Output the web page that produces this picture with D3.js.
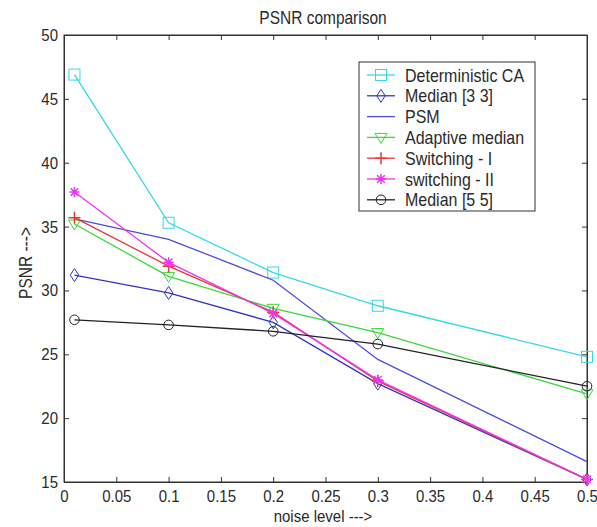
<!DOCTYPE html>
<html>
<head>
<meta charset="utf-8">
<script src="https://cdn.jsdelivr.net/npm/d3@7"></script>
<style>
  body { margin: 0; background: #fff; }
  svg { font-family: "Liberation Sans", Arial, sans-serif; }
</style>
</head>
<body>
<svg></svg>
<script>
const noise = [0.01, 0.1, 0.2, 0.3, 0.5];

const detCA      = [46.9, 35.3, 31.4, 28.8, 24.8];
const median33   = [31.2, 29.8, 27.5, 22.7, 15.2];
const psm        = [35.6, 34.0, 30.8, 24.6, 16.6];
const adaptive   = [35.2, 31.1, 28.6, 26.7, 21.9];
const switchingI = [35.7, 31.9, 28.3, 22.9, 15.2];
const switchingII= [37.7, 32.2, 28.2, 23.0, 15.2];
const median55   = [27.7, 27.3, 26.8, 25.8, 22.5];

const xTicks = [0, 0.05, 0.1, 0.15, 0.2, 0.25, 0.3, 0.35, 0.4, 0.45, 0.5];
const yTicks = [15, 20, 25, 30, 35, 40, 45, 50];

const series = [
  { name: 'Deterministic CA', values: detCA, color: '#36d8e6', marker: 'square' },
  { name: 'Median [3 3]', values: median33, color: '#3434c4', marker: 'diamond' },
  { name: 'PSM', values: psm, color: '#4c4cd8', marker: 'none' },
  { name: 'Adaptive median', values: adaptive, color: '#3ad83a', marker: 'triangle' },
  { name: 'Switching - I', values: switchingI, color: '#ec3636', marker: 'plus' },
  { name: 'switching - II', values: switchingII, color: '#ec36ec', marker: 'star' },
  { name: 'Median [5 5]', values: median55, color: '#222222', marker: 'circle' }
];

const width = 597;
const height = 527;
const padLeft = 64, padRight = 587, padTop = 35, padBottom = 482;
const stretch = 1.15; // glyphs in the reference are taller than Arial

const svg = d3.select('svg').attr('width', width).attr('height', height);

const x = d3.scaleLinear().domain([0, 0.5]).range([padLeft, padRight]);
const y = d3.scaleLinear().domain([15, 50]).range([padBottom, padTop]);

// axes with inward ticks on all sides
const fmt = d => String(+d.toFixed(2));
const xAxisG = svg.append('g')
  .attr('transform', 'translate(0,' + padBottom + ')')
  .call(d3.axisBottom(x).tickValues(xTicks).tickSizeInner(-5).tickSizeOuter(0).tickFormat(fmt));
xAxisG.selectAll('.tick text')
  .attr('y', 20 / stretch).attr('dy', 0)
  .attr('transform', 'scale(1,' + stretch + ')');

svg.append('g')
  .attr('transform', 'translate(0,' + padTop + ')')
  .call(d3.axisTop(x).tickValues(xTicks).tickSizeInner(-5).tickSizeOuter(0).tickFormat(''));

const yAxisG = svg.append('g')
  .attr('transform', 'translate(' + padLeft + ',0)')
  .call(d3.axisLeft(y).tickValues(yTicks).tickSizeInner(-5).tickSizeOuter(0).tickPadding(6).tickFormat(d3.format('d')));
yAxisG.selectAll('.tick text')
  .attr('transform', 'scale(1,' + stretch + ')');

svg.append('g')
  .attr('transform', 'translate(' + padRight + ',0)')
  .call(d3.axisRight(y).tickValues(yTicks).tickSizeInner(-5).tickSizeOuter(0).tickFormat(''));

svg.selectAll('.domain').attr('stroke', '#333');
svg.selectAll('.tick line').attr('stroke', '#333');
svg.selectAll('.tick text').attr('font-size', 15).attr('fill', '#2a2a2a');

svg.append('rect')
  .attr('x', padLeft).attr('y', padTop)
  .attr('width', padRight - padLeft).attr('height', padBottom - padTop)
  .attr('fill', 'none').attr('stroke', '#333');

// marker drawing
const drawMarker = (g, type, color) => {
  const m = g.append('g');
  if (type === 'square') {
    m.append('rect').attr('x', -5.5).attr('y', -5.5).attr('width', 11).attr('height', 11)
      .attr('fill', 'none').attr('stroke', color);
  } else if (type === 'diamond') {
    m.append('path').attr('d', 'M0,-6.5L4.2,0L0,6.5L-4.2,0Z').attr('fill', 'none').attr('stroke', color);
  } else if (type === 'triangle') {
    m.append('path').attr('d', 'M-6,-4L6,-4L0,6Z').attr('fill', 'none').attr('stroke', color);
  } else if (type === 'plus') {
    m.append('path').attr('d', 'M-6,0L6,0M0,-6L0,6').attr('stroke', color).attr('stroke-width', 1.5);
  } else if (type === 'star') {
    m.append('path').attr('d', 'M-5,0L5,0M0,-5L0,5M-3.8,-3.8L3.8,3.8M-3.8,3.8L3.8,-3.8').attr('stroke', color).attr('stroke-width', 1.5);
  } else if (type === 'circle') {
    m.append('circle').attr('r', 4.8).attr('fill', 'none').attr('stroke', color);
  }
  return m;
};

const line = d3.line().x((d, i) => x(noise[i])).y(d => y(d));

series.forEach(s => {
  svg.append('path')
    .datum(s.values)
    .attr('d', line)
    .attr('fill', 'none')
    .attr('stroke', s.color)
    .attr('stroke-width', 1.3);
  s.values.forEach((v, i) => {
    drawMarker(svg, s.marker, s.color)
      .attr('transform', 'translate(' + x(noise[i]) + ',' + y(v) + ')');
  });
});

// text helper: stretched glyphs
const label = (tx, ty, rot, size, str, anchor) => {
  svg.append('g')
    .attr('transform', 'translate(' + tx + ',' + ty + ') rotate(' + rot + ') scale(1,' + stretch + ')')
    .append('text')
    .attr('text-anchor', anchor || 'start')
    .attr('font-size', size)
    .attr('fill', '#2a2a2a')
    .text(str);
};

// legend
const legend = svg.append('g');
legend.append('rect')
  .attr('x', 359).attr('y', 62).attr('width', 176).attr('height', 149)
  .attr('fill', '#fff').attr('stroke', '#333');
series.forEach((s, i) => {
  const ly = 75 + i * 20.8;
  legend.append('line')
    .attr('x1', 367).attr('x2', 395).attr('y1', ly).attr('y2', ly)
    .attr('stroke', s.color).attr('stroke-width', 1.3);
  drawMarker(legend, s.marker, s.color).attr('transform', 'translate(381,' + ly + ')');
  label(405, ly + 6.5, 0, 16, s.name);
});

// titles
label(323, 24, 0, 15.5, 'PSNR comparison', 'middle');
label(323, 522, 0, 15, 'noise level --->', 'middle');
label(32, 263, -90, 15.5, 'PSNR --->', 'middle');
</script>
</body>
</html>
